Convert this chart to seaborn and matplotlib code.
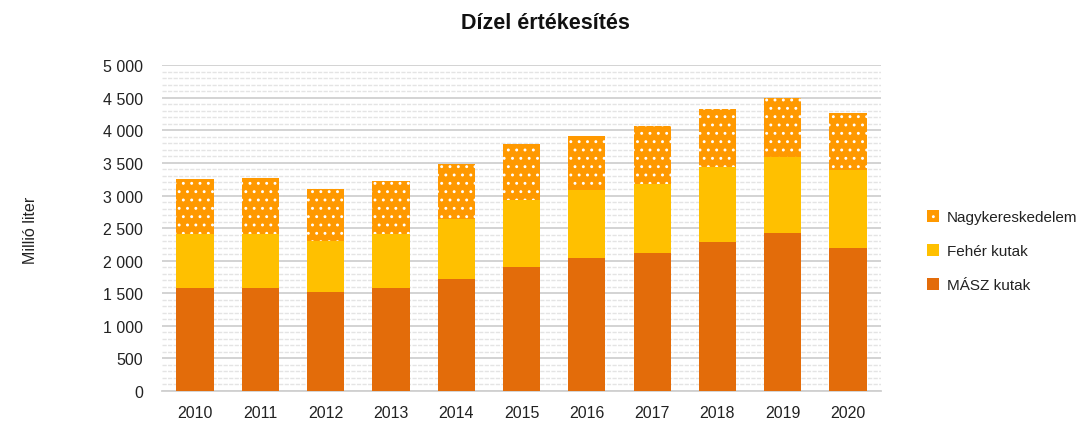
import numpy as np
import pandas as pd
import seaborn as sns
import matplotlib.pyplot as plt
from matplotlib.ticker import MultipleLocator, FuncFormatter
from matplotlib.patches import Patch

years = ["2010", "2011", "2012", "2013", "2014", "2015", "2016", "2017", "2018", "2019", "2020"]
masz = [1580, 1580, 1520, 1580, 1720, 1910, 2040, 2110, 2290, 2420, 2200]
feher = [830, 830, 780, 830, 920, 1015, 1045, 1065, 1150, 1165, 1185]
nagyker = [845, 855, 800, 810, 845, 860, 830, 885, 890, 905, 875]

c_masz = "#E36C0A"
c_feher = "#FFC000"
c_nagy = "#FF9900"

sns.set_style("white")
plt.rcParams["font.family"] = ["Liberation Sans", "DejaVu Sans"]
plt.rcParams["hatch.linewidth"] = 0.9

df = pd.DataFrame({"year": years, "masz": masz, "feher": feher, "nagyker": nagyker})
df["lvl2"] = df["masz"] + df["feher"]
df["lvl3"] = df["lvl2"] + df["nagyker"]

fig = plt.figure(figsize=(10.9, 4.27), dpi=100)
ax = fig.add_axes([0.149, 0.082, 0.659, 0.763])

# stacked by overlaying cumulative totals
sns.barplot(data=df, x="year", y="lvl3", color=c_nagy, saturation=1, width=0.57,
            hatch="..", edgecolor="white", linewidth=0, ax=ax, zorder=3)
sns.barplot(data=df, x="year", y="lvl2", color=c_feher, saturation=1, width=0.57,
            linewidth=0, ax=ax, zorder=3)
sns.barplot(data=df, x="year", y="masz", color=c_masz, saturation=1, width=0.57,
            linewidth=0, ax=ax, zorder=3)

ax.set_ylim(0, 5000)
ax.set_xlim(-0.5, 10.5)
ax.yaxis.set_major_locator(MultipleLocator(500))
ax.yaxis.set_minor_locator(MultipleLocator(100))
ax.yaxis.set_major_formatter(FuncFormatter(lambda v, p: f"{int(v):,}".replace(",", " ")))
ax.grid(axis="y", which="major", color="#D0D0D0", linewidth=1.3, zorder=0)
ax.grid(axis="y", which="minor", color="#E4E4E4", linewidth=1.0, linestyle=(0, (3, 1)), zorder=0)
ax.set_axisbelow(True)

for s in ["top", "right", "left"]:
    ax.spines[s].set_visible(False)
ax.spines["bottom"].set_color("#D0D0D0")
ax.spines["bottom"].set_linewidth(1.3)
ax.tick_params(axis="both", length=0, labelsize=11.5, colors="#222222")
ax.tick_params(axis="y", pad=14)
ax.tick_params(axis="x", pad=10)
ax.set_xlabel("")
ax.set_ylabel("")

fig.text(0.028, 0.46, "Millió liter", rotation=90, ha="center", va="center", fontsize=11.5, color="#222222")
fig.suptitle("Dízel értékesítés", x=0.5, y=0.97, fontsize=15.5, fontweight="bold", color="#111111")

handles = [
    Patch(facecolor=c_nagy, hatch="..", edgecolor="white", linewidth=0),
    Patch(facecolor=c_feher, linewidth=0),
    Patch(facecolor=c_masz, linewidth=0),
]
labels = ["Nagykereskedelem", "Fehér kutak", "MÁSZ kutak"]
fig.legend(handles, labels, loc="center left", bbox_to_anchor=(0.838, 0.41), frameon=False,
           fontsize=11, handlelength=0.8, handleheight=0.8, handletextpad=0.5, labelspacing=1.3,
           labelcolor="#222222")

fig.savefig("out.png", dpi=100)
